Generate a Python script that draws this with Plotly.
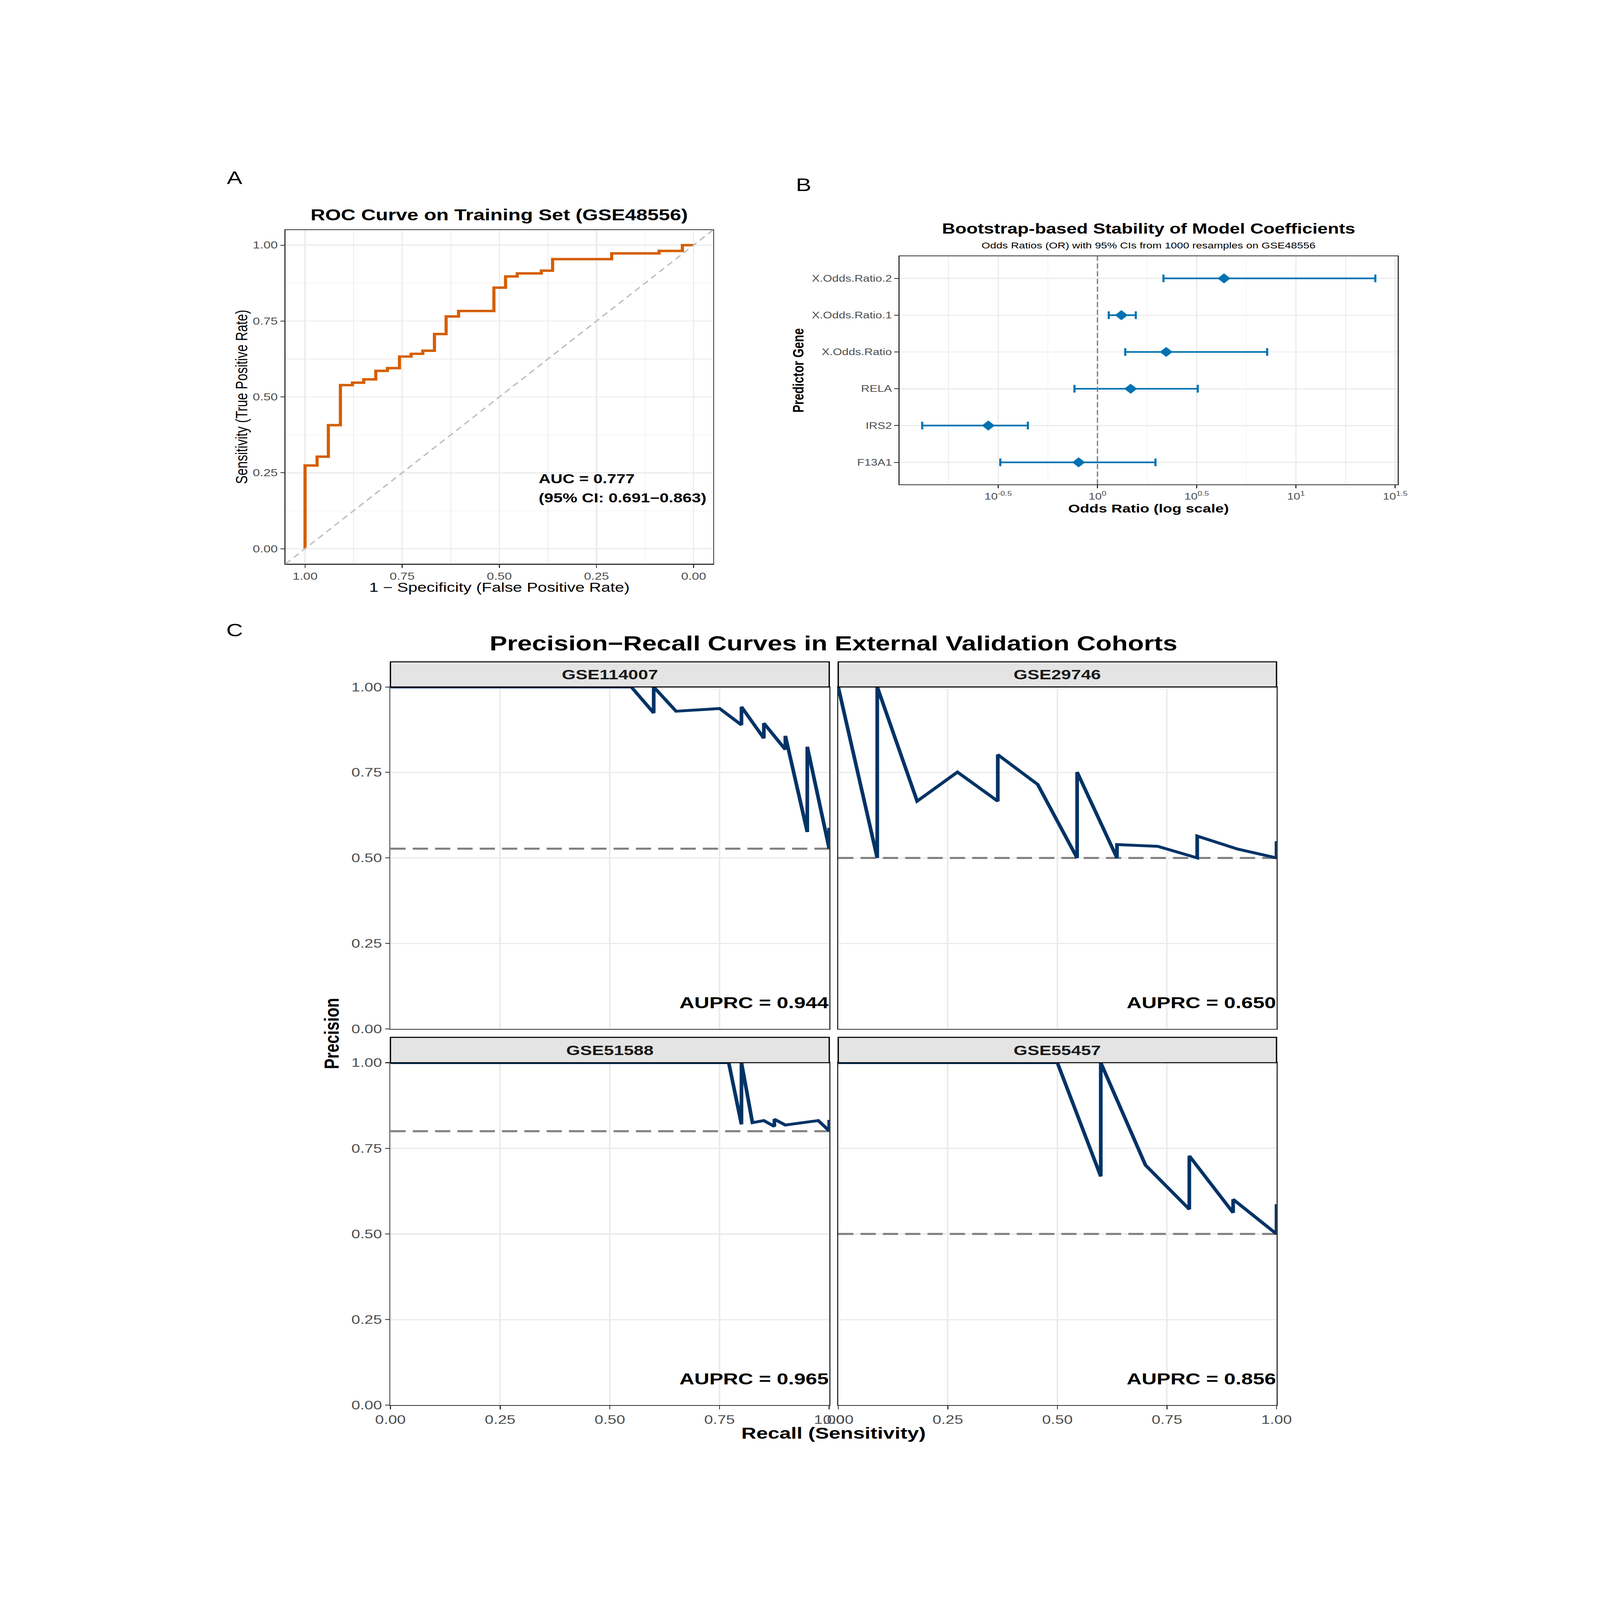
import plotly.graph_objects as go

# ---------------- DATA ----------------
roc_spec = [1.0, 1.0, 0.969, 0.940, 0.909, 0.878, 0.849, 0.818, 0.788, 0.757, 0.727, 0.697,
            0.667, 0.637, 0.605, 0.514, 0.484, 0.454, 0.392, 0.363, 0.211, 0.089, 0.029, 0.0]
roc_sens = [0.0, 0.274, 0.303, 0.407, 0.539, 0.547, 0.558, 0.586, 0.595, 0.633, 0.642, 0.652,
            0.707, 0.765, 0.783, 0.860, 0.897, 0.907, 0.916, 0.954, 0.973, 0.981, 1.0, 1.0]
roc_auc_text = ["AUC = 0.777", "(95% CI: 0.691\u22120.863)"]
roc_ticks = [1.0, 0.75, 0.5, 0.25, 0.0]

genes = ["X.Odds.Ratio.2", "X.Odds.Ratio.1", "X.Odds.Ratio", "RELA", "IRS2", "F13A1"]
or_point = [4.34, 1.32, 2.22, 1.47, 0.282, 0.804]
or_lower = [2.15, 1.14, 1.38, 0.766, 0.131, 0.324]
or_upper = [25.1, 1.56, 7.16, 3.20, 0.446, 1.96]
or_tick_exponents = ["-0.5", "0", "0.5", "1", "1.5"]
or_minor_exponents = [-0.75, -0.25, 0.25, 0.75, 1.25]

pr_cohorts = ["GSE114007", "GSE29746", "GSE51588", "GSE55457"]
pr_auprc = [0.944, 0.650, 0.965, 0.856]
pr_prevalence = [0.527, 0.5, 0.80, 0.5]
recall_gse114007 = [0.0, 0.549, 0.600, 0.600, 0.651, 0.750, 0.800, 0.800, 0.851, 0.851,
                    0.900, 0.900, 0.950, 0.950, 1.0, 1.0]
precision_gse114007 = [1.0, 1.0, 0.924, 1.0, 0.929, 0.937, 0.889, 0.942, 0.850, 0.894,
                       0.817, 0.857, 0.576, 0.825, 0.527, 0.588]
recall_gse29746 = [0.0, 0.089, 0.089, 0.180, 0.272, 0.364, 0.364, 0.455, 0.545, 0.545,
                   0.636, 0.636, 0.729, 0.819, 0.819, 0.911, 1.0, 1.0]
precision_gse29746 = [1.0, 0.5, 1.0, 0.666, 0.751, 0.666, 0.802, 0.715, 0.5, 0.751,
                      0.5, 0.539, 0.534, 0.5, 0.564, 0.526, 0.5, 0.549]
recall_gse51588 = [0.0, 0.771, 0.800, 0.800, 0.825, 0.851, 0.875, 0.875, 0.900, 0.975, 1.0, 1.0]
precision_gse51588 = [1.0, 1.0, 0.820, 1.0, 0.825, 0.831, 0.814, 0.835, 0.818, 0.831, 0.801, 0.833]
recall_gse55457 = [0.0, 0.5, 0.599, 0.599, 0.701, 0.801, 0.801, 0.901, 0.901, 1.0, 1.0]
precision_gse55457 = [1.0, 1.0, 0.668, 1.0, 0.701, 0.572, 0.728, 0.562, 0.601, 0.5, 0.587]
pr_ticks = [0.0, 0.25, 0.5, 0.75, 1.0]

pr_recalls = [recall_gse114007, recall_gse29746, recall_gse51588, recall_gse55457]
pr_precisions = [precision_gse114007, precision_gse29746, precision_gse51588, precision_gse55457]

# ---------------- LAYOUT HELPERS ----------------
W, H = 6095, 7887
FONT = "Liberation Sans, Arial, Helvetica, sans-serif"
GRID = "#EBEBEB"
BORDER = "#333333"
TICKTXT = "#4D4D4D"


def fx(x):
    return x / W


def fy(y):
    return 1 - y / H


def xdom(a, b):
    return [a / W, b / W]


def ydom(top, bottom):
    return [1 - bottom / H, 1 - top / H]


def axis_style(tick_size, show_labels=True, ticks=True, gridwidth=5):
    return dict(
        showline=True, mirror=True, linecolor=BORDER, linewidth=4,
        showgrid=True, gridcolor=GRID, gridwidth=gridwidth,
        zeroline=False,
        ticks="outside" if ticks else "", ticklen=16, tickwidth=4, tickcolor=BORDER,
        showticklabels=show_labels,
        tickfont=dict(family=FONT, size=tick_size, color=TICKTXT),
    )


fig = go.Figure()
annotations = []
shapes = []

# ---------------- PANEL A: ROC ----------------
fig.add_trace(go.Scatter(
    x=roc_spec, y=roc_sens, mode="lines", line=dict(color="#D55E00", width=12, shape="hv"),
    xaxis="x", yaxis="y", hoverinfo="skip"))
shapes.append(dict(type="line", xref="x domain", yref="y domain", x0=0, y0=0, x1=1, y1=1,
                   line=dict(color="#BEBEBE", width=6, dash="26px,18px"), layer="above"))

roc_x = axis_style(49)
roc_x.update(domain=xdom(1050, 2710), range=[1.05, -0.05], tickvals=roc_ticks, tickformat=".2f",
             anchor="y",
             minor=dict(tickvals=[0.875, 0.625, 0.375, 0.125], showgrid=True, gridcolor=GRID,
                        gridwidth=2.5))
roc_y = axis_style(49)
roc_y.update(domain=ydom(1110, 2770), range=[-0.05, 1.05], tickvals=roc_ticks, tickformat=".2f",
             anchor="x",
             minor=dict(tickvals=[0.125, 0.375, 0.625, 0.875], showgrid=True, gridcolor=GRID,
                        gridwidth=2.5))

annotations += [
    dict(text="<b>ROC Curve on Training Set (GSE48556)</b>", x=fx(1880), y=fy(1035),
         font=dict(size=77, color="black")),
    dict(text="1 \u2212 Specificity (False Positive Rate)", x=fx(1880), y=fy(2888),
         font=dict(size=63, color="black")),
    dict(text="Sensitivity (True Positive Rate)", x=fx(878), y=fy(1940), textangle=-90,
         font=dict(size=63, color="black")),
    dict(text="<b>%s</b>" % roc_auc_text[0], xref="x", yref="y", x=0.4, y=0.231,
         xanchor="left", font=dict(size=63, color="black")),
    dict(text="<b>%s</b>" % roc_auc_text[1], xref="x", yref="y", x=0.4, y=0.167,
         xanchor="left", font=dict(size=63, color="black")),
]

# ---------------- PANEL B: forest ----------------
fig.add_trace(go.Scatter(
    x=or_point, y=genes, mode="markers",
    marker=dict(symbol="diamond", size=38, color="#0072B2"),
    error_x=dict(type="data", symmetric=False,
                 array=[u - p for u, p in zip(or_upper, or_point)],
                 arrayminus=[p - l for p, l in zip(or_point, or_lower)],
                 color="#0072B2", thickness=8, width=19),
    xaxis="x2", yaxis="y2", hoverinfo="skip"))
shapes.append(dict(type="line", xref="x2", yref="y2 domain", x0=1, x1=1, y0=0, y1=1,
                   line=dict(color="#808080", width=5, dash="25px,13px"), layer="above"))

fx2 = axis_style(45)
fx2.update(domain=xdom(3434, 5369), type="log", range=[-0.997, 1.513],
           tickvals=[10 ** float(e) for e in or_tick_exponents],
           ticktext=["10<sup>%s</sup>" % e for e in or_tick_exponents],
           anchor="y2",
           minor=dict(tickvals=[10 ** e for e in or_minor_exponents], showgrid=True,
                      gridcolor=GRID, gridwidth=2.5))
fy2 = axis_style(45)
fy2.update(domain=ydom(1241, 2375), type="category", categoryorder="array",
           categoryarray=list(reversed(genes)), range=[-0.6, len(genes) - 0.4], anchor="x2")

annotations += [
    dict(text="<b>Bootstrap-based Stability of Model Coefficients</b>", x=fx(4401), y=fy(1104),
         font=dict(size=70, color="black")),
    dict(text="Odds Ratios (OR) with 95% CIs from 1000 resamples on GSE48556", x=fx(4401),
         y=fy(1187), font=dict(size=42, color="black")),
    dict(text="<b>Odds Ratio (log scale)</b>", x=fx(4401), y=fy(2494),
         font=dict(size=58, color="black")),
    dict(text="<b>Predictor Gene</b>", x=fx(3041), y=fy(1808), textangle=-90,
         font=dict(size=58, color="black")),
]

# ---------------- PANEL C: PR facets ----------------
panel_cols = [(1457, 3161), (3196, 4898)]
panel_rows = [(3257, 3382, 5082), (5124, 5250, 6953)]
layout_axes = {}
for i, cohort in enumerate(pr_cohorts):
    r, c = divmod(i, 2)
    xl, xr = panel_cols[c]
    st, pt, pb = panel_rows[r]
    n = i + 3
    xname, yname = "x%d" % n, "y%d" % n
    fig.add_trace(go.Scatter(
        x=[0, 1], y=[pr_prevalence[i]] * 2, mode="lines",
        line=dict(color="#808080", width=10, dash="58px,27px"),
        xaxis=xname, yaxis=yname, hoverinfo="skip"))
    fig.add_trace(go.Scatter(
        x=pr_recalls[i], y=pr_precisions[i], mode="lines",
        line=dict(color="#003366", width=14),
        xaxis=xname, yaxis=yname, hoverinfo="skip"))
    ax = axis_style(60, show_labels=(r == 1), ticks=(r == 1), gridwidth=6)
    ax.update(domain=xdom(xl, xr), range=[0, 1], tickvals=pr_ticks, tickformat=".2f",
              anchor=yname)
    ay = axis_style(60, show_labels=(c == 0), ticks=(c == 0), gridwidth=6)
    ay.update(domain=ydom(pt, pb), range=[0, 1], tickvals=pr_ticks, tickformat=".2f",
              anchor=xname)
    layout_axes["xaxis%d" % n] = ax
    layout_axes["yaxis%d" % n] = ay
    shapes.append(dict(type="rect", xref="paper", yref="paper", x0=fx(xl), x1=fx(xr),
                       y0=fy(pt), y1=fy(st), fillcolor="#E4E4E4",
                       line=dict(color="black", width=5), layer="above"))
    annotations.append(dict(text="<b>%s</b>" % cohort, x=fx((xl + xr) / 2), y=fy((st + pt) / 2),
                            font=dict(size=68, color="#1A1A1A")))
    annotations.append(dict(text="<b>AUPRC = %.3f</b>" % pr_auprc[i], xref=xname, yref=yname,
                            x=1, y=0.05, xanchor="right", yanchor="bottom",
                            font=dict(size=79, color="black")))

annotations += [
    dict(text="<b>Precision\u2212Recall Curves in External Validation Cohorts</b>", x=fx(3177),
         y=fy(3165), font=dict(size=100, color="black")),
    dict(text="<b>Recall (Sensitivity)</b>", x=fx(3177), y=fy(7092),
         font=dict(size=79, color="black")),
    dict(text="<b>Precision</b>", x=fx(1228), y=fy(5105), textangle=-90,
         font=dict(size=78, color="black")),
]

annotations += [
    dict(text="A", x=fx(852), y=fy(850), font=dict(size=88, color="black")),
    dict(text="B", x=fx(3062), y=fy(885), font=dict(size=88, color="black")),
    dict(text="C", x=fx(852), y=fy(3100), font=dict(size=88, color="black")),
]

for a in annotations:
    a.setdefault("xref", "paper")
    a.setdefault("yref", "paper")
    a.setdefault("xanchor", "center")
    a.setdefault("yanchor", "middle")
    a.setdefault("showarrow", False)
    a["font"].setdefault("family", FONT)

fig.update_layout(
    width=W, height=H, margin=dict(l=0, r=0, t=0, b=0, pad=0),
    paper_bgcolor="white", plot_bgcolor="white", showlegend=False,
    font=dict(family=FONT, color="black"),
    xaxis=roc_x, yaxis=roc_y, xaxis2=fx2, yaxis2=fy2,
    annotations=annotations, shapes=shapes,
    **layout_axes,
)

# Fit the full-size figure into whatever window the page is opened in
# (no change when the window is exactly W x H).
fit_script = (
    "document.body.style.margin='0';"
    "document.body.style.overflow='hidden';"
    "var gd=document.getElementById('{plot_id}');"
    "var sx=window.innerWidth/%d, sy=window.innerHeight/%d;"
    "if(Math.abs(sx-1)>1e-3||Math.abs(sy-1)>1e-3){"
    "gd.style.transformOrigin='0 0';"
    "gd.style.transform='scale('+sx+','+sy+')';}"
) % (W, H)
fig.write_html("out.html", post_script=fit_script,
               config={"displayModeBar": False, "staticPlot": True})
